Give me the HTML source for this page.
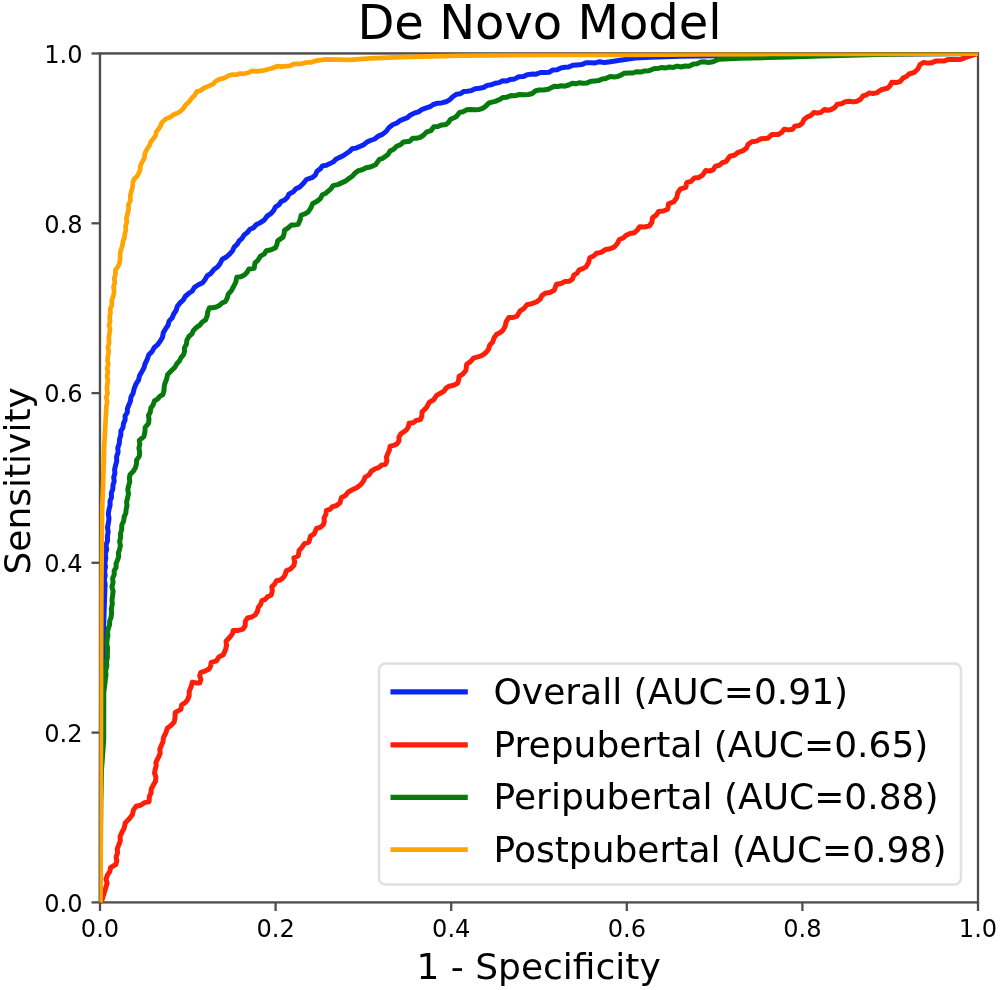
<!DOCTYPE html>
<html lang="en">
<head>
<meta charset="utf-8">
<title>De Novo Model</title>
<style>
html,body{margin:0;padding:0;background:#ffffff;}
body{width:1000px;height:990px;overflow:hidden;}
svg{display:block;}
text{font-family:"DejaVu Sans", "Liberation Sans", sans-serif;fill:#000000;}
.tick{font-size:24.1px;}
.lab{font-size:36px;}
.leg{font-size:36px;}
.title{font-size:48px;}
.curve{fill:none;stroke-linejoin:round;stroke-linecap:butt;}
</style>
</head>
<body>
<svg width="1000" height="990" viewBox="0 0 1000 990">
<rect x="0" y="0" width="1000" height="990" fill="#ffffff"/>
<defs><clipPath id="ax"><rect x="98.85" y="52.35" width="880.3" height="851.1999999999999"/></clipPath></defs>
<text class="title" x="539.5" y="38.8" text-anchor="middle">De Novo Model</text>
<rect x="100.0" y="53.5" width="878.0" height="848.9" fill="none" stroke="#4d4d4d" stroke-width="2.3"/>
<line x1="100.0" y1="902.4" x2="100.0" y2="911.0" stroke="#4d4d4d" stroke-width="2.3"/><text class="tick" transform="translate(100.0,937.4) scale(1,1.055)" text-anchor="middle">0.0</text>
<line x1="275.6" y1="902.4" x2="275.6" y2="911.0" stroke="#4d4d4d" stroke-width="2.3"/><text class="tick" transform="translate(275.6,937.4) scale(1,1.055)" text-anchor="middle">0.2</text>
<line x1="451.2" y1="902.4" x2="451.2" y2="911.0" stroke="#4d4d4d" stroke-width="2.3"/><text class="tick" transform="translate(451.2,937.4) scale(1,1.055)" text-anchor="middle">0.4</text>
<line x1="626.8" y1="902.4" x2="626.8" y2="911.0" stroke="#4d4d4d" stroke-width="2.3"/><text class="tick" transform="translate(626.8,937.4) scale(1,1.055)" text-anchor="middle">0.6</text>
<line x1="802.4" y1="902.4" x2="802.4" y2="911.0" stroke="#4d4d4d" stroke-width="2.3"/><text class="tick" transform="translate(802.4,937.4) scale(1,1.055)" text-anchor="middle">0.8</text>
<line x1="978.0" y1="902.4" x2="978.0" y2="911.0" stroke="#4d4d4d" stroke-width="2.3"/><text class="tick" transform="translate(978.0,937.4) scale(1,1.055)" text-anchor="middle">1.0</text>
<line x1="91.5" y1="902.4" x2="100.0" y2="902.4" stroke="#4d4d4d" stroke-width="2.3"/><text class="tick" transform="translate(82.5,911.6) scale(1,1.055)" text-anchor="end">0.0</text>
<line x1="91.5" y1="732.6" x2="100.0" y2="732.6" stroke="#4d4d4d" stroke-width="2.3"/><text class="tick" transform="translate(82.5,741.9) scale(1,1.055)" text-anchor="end">0.2</text>
<line x1="91.5" y1="562.8" x2="100.0" y2="562.8" stroke="#4d4d4d" stroke-width="2.3"/><text class="tick" transform="translate(82.5,572.1) scale(1,1.055)" text-anchor="end">0.4</text>
<line x1="91.5" y1="393.1" x2="100.0" y2="393.1" stroke="#4d4d4d" stroke-width="2.3"/><text class="tick" transform="translate(82.5,402.3) scale(1,1.055)" text-anchor="end">0.6</text>
<line x1="91.5" y1="223.3" x2="100.0" y2="223.3" stroke="#4d4d4d" stroke-width="2.3"/><text class="tick" transform="translate(82.5,232.5) scale(1,1.055)" text-anchor="end">0.8</text>
<line x1="91.5" y1="53.5" x2="100.0" y2="53.5" stroke="#4d4d4d" stroke-width="2.3"/><text class="tick" transform="translate(82.5,62.8) scale(1,1.055)" text-anchor="end">1.0</text>
<g clip-path="url(#ax)">
<polyline class="curve" points="100.2,902.4 100.8,760.0 101.5,700.0 103.0,650.0 103.8,621.7 104.9,588.8 105.2,584.4 104.3,580.1 105.2,575.7 104.5,571.3 105.5,567.0 104.9,562.6 105.8,558.3 105.3,553.8 106.7,549.5 105.9,545.0 107.6,540.7 107.4,536.3 108.2,531.9 107.5,527.5 108.4,523.1 109.0,518.6 108.3,513.9 109.0,509.4 110.1,505.4 110.0,501.2 111.5,497.3 111.3,493.1 112.8,489.2 113.0,485.1 114.2,481.2 113.7,477.2 114.9,473.3 114.6,469.3 115.6,465.4 116.7,461.1 116.6,456.6 118.1,452.3 117.8,447.8 119.3,443.5 119.6,439.1 120.8,435.2 120.9,431.1 123.0,427.5 123.5,423.4 125.1,419.9 125.1,415.9 127.3,412.5 127.4,408.6 128.8,405.0 130.4,401.2 131.0,397.0 133.1,393.3 134.0,389.2 135.9,384.2 138.5,380.2 139.6,375.5 142.0,371.4 144.0,367.8 145.0,363.8 147.2,359.4 148.8,354.7 152.0,351.6 154.2,347.6 157.6,344.7 160.2,341.1 162.5,337.3 163.3,332.8 165.5,328.9 168.0,325.3 169.1,321.1 172.2,317.8 173.8,313.8 176.1,310.5 177.3,306.4 179.8,303.2 183.1,300.2 185.4,296.2 188.9,293.3 192.3,291.0 194.5,287.3 198.0,285.0 202.6,282.7 205.1,279.5 207.1,275.9 211.0,273.3 213.9,269.5 217.7,266.8 220.3,263.2 222.3,259.2 226.4,257.0 229.8,253.9 232.5,250.9 234.1,247.1 237.1,244.4 239.1,240.9 242.1,238.3 244.1,235.0 247.3,232.6 249.7,229.5 253.5,227.7 256.4,224.5 260.3,222.7 264.2,220.1 267.0,216.2 270.9,213.6 273.7,210.5 275.5,206.8 278.9,204.8 281.2,201.5 284.9,199.9 287.6,197.0 289.1,193.9 293.0,192.1 295.8,188.8 299.7,187.1 303.3,183.5 306.5,179.5 312.6,177.3 315.5,174.8 317.0,171.2 320.2,168.9 322.4,165.9 326.4,165.3 330.0,163.6 333.3,161.9 335.9,159.3 339.1,157.6 343.1,155.8 346.8,153.3 349.7,151.3 352.1,148.8 356.0,148.1 359.7,146.5 363.5,144.9 366.6,142.3 370.3,140.5 374.6,139.0 378.2,136.1 382.4,134.4 386.2,131.4 389.1,127.4 393.0,124.5 396.8,123.2 399.9,120.6 403.6,119.2 407.4,117.7 410.5,114.9 414.2,113.2 418.5,111.9 422.2,109.3 426.4,107.9 430.1,106.7 433.3,104.5 437.0,103.3 441.6,102.9 446.1,101.8 449.9,99.6 453.0,96.5 456.7,94.2 460.4,93.8 463.6,91.6 467.3,91.2 471.4,90.6 475.2,88.7 479.4,88.2 483.5,87.5 487.2,85.4 491.4,84.8 495.2,83.2 499.1,82.6 502.6,80.8 506.7,81.0 510.3,79.4 514.7,78.9 518.7,76.8 523.1,76.6 527.2,74.8 531.5,74.1 536.1,74.2 540.6,72.5 545.2,72.6 549.3,72.2 552.9,69.9 557.1,69.8 560.8,68.0 564.8,67.3 568.9,66.9 572.9,65.3 577.0,65.0 581.6,64.6 586.0,62.8 590.6,62.7 595.2,62.9 599.7,61.7 604.3,62.6 608.8,62.0 620.0,60.3 635.0,58.0 650.0,57.3 680.0,56.2 717.5,55.8 800.0,54.6 978.0,53.6" stroke="#0c24f4" stroke-width="5.0"/>
<polyline class="curve" points="100.2,902.4 101.4,901.7 105.9,887.3 107.1,883.4 106.0,879.1 107.4,875.2 109.8,871.7 110.5,867.6 115.8,864.5 116.8,860.8 116.1,857.0 117.5,853.1 117.3,848.7 118.8,844.8 120.3,840.9 120.1,836.6 121.8,832.7 124.2,828.0 125.2,822.9 129.7,818.3 132.4,814.6 133.5,809.9 136.2,806.2 140.7,805.3 144.6,802.6 149.1,801.7 149.4,796.4 151.0,793.0 151.2,789.2 152.9,785.8 155.5,781.2 155.9,777.2 154.5,773.2 155.2,769.2 156.2,765.9 155.9,762.4 158.9,756.4 160.2,753.0 159.8,749.2 161.2,745.8 163.0,741.8 163.5,737.4 165.8,733.0 167.3,728.3 170.9,725.6 174.1,722.3 175.1,717.4 175.2,712.4 180.9,709.4 181.7,704.8 185.2,702.7 187.7,699.5 189.2,695.5 189.2,691.2 191.1,686.8 192.3,682.1 196.0,682.9 199.8,682.9 200.9,679.4 199.7,675.7 200.9,672.3 205.0,671.1 208.9,669.2 210.7,666.0 211.2,662.4 216.5,660.9 218.8,657.1 223.3,654.8 225.6,649.5 226.5,645.4 226.1,641.2 230.2,636.7 232.4,634.0 233.2,630.6 238.2,630.4 243.0,629.1 245.2,625.6 245.3,621.3 247.6,617.9 251.7,617.0 255.2,614.8 257.4,611.5 258.3,607.5 260.7,604.2 262.0,600.5 265.3,599.3 267.8,596.5 271.1,595.2 272.3,591.1 271.8,586.8 274.6,584.2 276.4,580.8 280.2,580.0 283.2,577.7 285.2,574.5 286.2,570.9 290.5,569.0 293.8,565.6 294.7,561.8 293.8,558.0 298.3,555.8 299.1,550.5 302.1,547.3 304.4,543.6 308.9,542.1 310.5,536.1 314.2,533.8 316.5,528.5 320.3,527.3 323.3,524.7 324.3,521.4 324.1,517.9 325.9,514.3 326.4,510.3 329.9,509.4 332.6,506.6 336.2,505.8 340.0,502.7 341.5,497.4 345.5,495.5 348.3,492.0 352.1,489.8 356.7,487.8 360.6,484.7 363.4,481.2 365.2,477.1 369.0,474.9 371.4,471.2 375.0,468.8 378.7,467.7 381.8,465.0 385.6,464.2 386.9,460.8 386.4,457.0 387.9,453.6 389.4,450.0 390.2,446.1 393.8,445.4 397.0,443.8 399.0,440.8 399.0,437.0 400.8,433.9 406.1,430.2 408.3,427.1 409.1,423.3 413.1,422.7 416.5,420.2 420.5,419.5 421.9,415.9 422.0,412.0 426.5,407.4 429.5,402.1 433.8,399.7 436.6,395.4 440.9,393.0 444.0,391.1 446.1,388.1 449.2,386.2 453.6,385.2 457.6,383.2 458.7,379.9 459.1,376.4 463.0,373.9 465.9,370.3 466.7,364.2 470.5,361.6 473.5,358.2 478.8,356.7 482.4,355.2 485.6,352.9 488.4,349.5 489.7,345.2 492.7,342.0 494.1,337.7 496.7,334.2 499.9,332.7 502.7,330.5 505.1,326.4 506.2,321.6 508.8,317.6 513.1,317.5 517.1,316.1 520.2,310.8 524.1,308.3 527.0,304.7 532.0,303.6 536.8,301.7 540.0,299.3 541.9,295.6 545.2,293.3 549.9,292.5 554.2,290.3 556.5,284.2 560.9,283.6 564.9,281.5 569.4,281.2 572.5,278.9 573.9,275.1 577.2,273.0 579.2,269.8 582.8,268.7 586.1,266.8 588.6,262.5 589.8,257.7 593.6,256.0 596.7,253.2 601.2,252.4 605.8,249.4 610.1,248.8 614.1,247.1 617.3,243.6 619.4,239.5 623.2,238.0 626.3,235.2 630.0,233.5 634.4,232.7 637.4,230.0 639.7,226.7 644.7,227.0 649.5,225.9 651.9,222.1 652.6,217.6 656.2,215.1 658.6,211.5 663.3,211.0 667.7,209.2 668.5,203.9 673.8,201.7 676.7,197.7 677.8,192.8 680.6,188.8 685.9,187.3 686.7,182.7 691.0,181.4 694.3,178.1 698.8,177.5 702.6,175.2 705.6,170.6 709.5,171.0 713.2,169.8 715.5,166.1 719.3,165.3 722.4,162.7 726.1,161.5 729.8,156.2 734.4,155.2 738.2,152.3 742.7,150.9 746.3,148.4 748.2,144.3 751.8,141.8 756.6,141.1 760.9,138.8 767.6,138.3 772.1,134.5 778.2,134.5 781.7,132.4 784.2,129.2 788.4,129.9 792.6,129.2 794.8,126.2 799.4,125.5 802.4,123.1 804.0,119.5 807.0,117.1 810.8,115.5 813.8,112.6 817.2,113.0 820.6,112.6 824.4,109.5 827.8,110.3 831.2,109.5 834.8,107.5 837.3,104.2 841.5,103.8 845.3,101.8 849.4,101.2 853.2,101.9 857.0,101.2 860.6,99.2 863.0,95.9 866.3,95.0 869.1,92.9 872.9,93.5 876.7,92.9 881.2,89.8 887.3,88.3 890.1,85.7 891.8,82.3 896.1,82.6 900.2,81.5 903.0,78.1 906.4,76.5 909.1,74.0 914.1,72.5 917.9,69.0 920.2,64.4 923.7,62.4 927.5,63.1 931.3,62.9 936.4,60.9 944.4,60.9 948.5,59.4 960.6,59.4 968.7,56.4 978.0,53.6" stroke="#ff1e08" stroke-width="5.0"/>
<polyline class="curve" points="100.2,902.4 100.8,800.0 101.5,770.0 103.7,740.0 103.8,692.5 105.4,679.4 106.0,675.0 105.6,670.6 106.8,666.2 106.5,661.8 107.4,657.4 107.4,653.0 107.6,648.5 106.8,643.9 107.1,639.4 107.9,635.7 107.5,631.9 108.4,628.3 109.6,624.8 109.7,621.1 111.0,617.7 111.6,613.3 111.3,608.8 112.3,604.3 112.0,599.8 112.6,595.4 113.1,591.1 111.9,586.8 113.1,582.6 112.6,578.3 114.2,574.8 114.2,570.8 116.1,567.4 116.1,563.5 117.6,559.9 118.7,556.5 118.4,552.8 119.6,549.4 120.4,545.5 119.6,541.5 120.6,537.6 120.5,533.6 121.7,529.4 121.8,525.0 123.7,520.9 124.2,516.6 125.8,513.2 126.1,509.4 127.0,505.7 126.6,501.9 127.5,498.2 128.5,493.9 127.8,489.4 128.8,485.1 129.8,481.7 129.3,478.1 130.1,474.6 133.1,471.6 135.3,468.0 136.4,464.1 136.6,460.1 139.3,456.2 139.7,452.2 138.9,448.3 139.8,444.3 139.3,440.4 143.9,436.5 144.9,431.9 145.2,427.3 148.5,423.4 149.0,419.4 148.5,415.5 150.3,412.0 150.9,408.0 153.2,404.7 154.4,401.0 157.5,399.2 159.8,396.4 162.9,394.5 164.0,390.6 164.2,386.6 164.7,384.2 166.5,379.4 167.7,374.4 172.3,369.8 175.0,367.2 176.8,363.8 179.4,361.0 181.1,357.5 183.6,354.7 184.5,351.4 184.4,347.9 186.4,344.3 186.9,340.1 188.9,336.5 191.9,333.9 193.6,330.2 196.5,327.4 199.8,325.1 202.3,322.0 205.6,319.8 207.2,315.9 207.8,311.6 209.4,307.7 212.8,307.7 216.2,307.0 219.4,305.5 222.0,303.0 225.3,301.7 227.2,298.1 228.3,294.1 231.4,290.6 233.6,286.5 235.8,282.1 236.8,277.3 240.8,276.8 244.4,275.0 247.1,272.3 248.9,268.9 254.2,268.2 255.0,262.9 258.1,260.1 260.2,256.4 264.0,254.2 266.4,250.8 271.1,249.8 275.5,247.7 276.9,244.4 277.7,240.9 283.0,237.1 284.1,233.8 284.5,230.3 288.2,227.9 291.4,225.0 294.8,224.9 298.2,224.2 300.1,219.8 301.2,215.2 304.7,214.0 308.0,212.1 310.7,208.2 312.6,203.8 317.9,200.8 320.7,198.1 322.4,194.7 325.7,193.2 328.5,190.9 331.1,188.6 333.0,185.6 337.7,184.6 342.1,182.6 345.9,180.9 349.1,178.3 352.4,176.2 355.0,173.1 358.2,170.8 362.3,169.8 366.1,167.8 370.3,167.0 375.6,164.7 379.4,159.4 382.7,158.3 385.5,156.4 388.2,154.2 390.0,151.1 393.7,149.3 396.6,146.3 400.5,144.7 403.6,142.0 409.7,141.2 412.7,138.2 416.5,138.2 420.3,137.4 423.6,135.1 426.4,132.1 430.9,130.6 433.9,126.8 438.0,126.4 442.0,124.9 446.1,124.5 448.7,122.1 450.6,119.2 455.9,117.0 459.7,112.4 463.3,111.7 466.6,109.8 470.3,109.4 474.9,109.8 479.4,109.4 482.6,108.3 485.5,106.4 489.1,102.9 495.2,101.4 499.1,99.8 502.7,97.6 506.9,97.2 511.0,95.6 515.3,95.7 519.4,94.5 524.0,94.8 528.5,94.5 532.3,93.5 535.3,91.0 539.1,90.0 543.7,90.0 548.2,89.2 554.2,86.2 557.7,86.6 561.3,85.7 564.8,86.2 568.7,85.0 572.4,83.2 575.9,83.8 579.5,82.7 583.0,83.2 587.2,82.9 591.0,81.2 595.2,80.9 598.8,80.6 602.2,78.9 605.8,78.6 610.3,76.4 614.1,76.9 617.9,76.4 621.0,75.1 623.9,73.3 629.0,73.0 632.9,73.0 636.8,71.7 640.7,72.1 644.6,70.9 648.5,70.8 654.5,68.5 658.3,68.4 662.0,67.4 665.8,67.9 669.5,67.0 673.4,67.4 677.3,66.1 681.2,67.0 685.1,66.0 689.0,66.3 693.5,64.0 697.1,63.8 700.4,62.1 704.0,61.8 708.5,62.4 713.0,61.8 719.0,59.2 740.0,58.3 768.5,57.6 790.0,56.9 820.0,56.0 850.0,55.3 887.0,54.3 930.0,53.8 978.0,53.6" stroke="#067a0a" stroke-width="5.0"/>
<polyline class="curve" points="100.6,902.4 101.0,700.0 101.3,600.0 102.1,509.4 103.1,485.1 104.2,445.7 106.4,406.3 107.2,401.9 106.3,397.4 107.6,393.1 106.9,388.6 107.4,384.2 107.9,380.2 107.0,376.2 107.9,372.2 107.1,368.2 108.3,364.2 107.5,360.2 107.9,356.2 108.8,351.7 107.9,347.1 109.2,342.6 108.8,338.0 109.4,333.5 110.1,329.5 109.1,325.4 110.1,321.4 109.6,317.3 110.5,313.3 110.2,309.2 111.9,304.8 111.8,300.0 113.5,295.6 114.2,291.3 113.5,286.9 114.8,282.7 114.3,278.4 115.5,274.1 115.5,269.8 117.8,267.1 119.2,263.8 120.2,259.3 120.0,254.7 120.8,250.2 122.4,245.8 123.0,241.1 124.4,237.8 124.8,234.2 125.8,230.2 125.6,226.0 126.9,222.0 126.4,217.8 127.6,213.8 128.6,209.3 128.5,204.6 130.5,200.3 130.2,195.6 131.4,191.1 132.6,187.1 132.8,182.9 134.1,178.9 137.0,176.3 138.9,172.9 140.2,169.5 140.4,165.7 142.0,162.3 144.4,158.0 145.0,153.0 147.3,148.6 149.5,145.5 150.8,141.7 153.3,138.8 155.5,135.7 156.3,131.9 158.6,128.9 160.5,126.1 161.7,122.9 165.5,119.1 169.9,117.3 173.8,114.5 179.1,112.3 182.9,108.9 185.9,104.7 189.2,101.6 192.0,97.9 194.8,95.2 196.5,91.8 200.6,90.5 204.1,88.0 209.1,85.9 213.0,84.1 215.9,81.0 219.7,79.1 224.2,78.1 228.2,75.8 232.6,74.5 236.4,74.7 240.1,73.5 243.9,73.8 248.3,72.7 252.3,70.8 256.5,71.4 260.6,70.8 264.5,70.3 268.2,69.2 272.8,68.0 277.3,66.2 281.9,66.6 286.4,66.2 290.0,65.8 293.3,64.1 297.0,63.9 301.6,63.8 306.0,62.5 310.6,62.4 315.2,60.9 325.8,59.4 350.0,59.8 370.3,58.3 400.6,57.1 430.9,56.4 461.2,55.6 490.0,55.3 560.0,55.0 630.0,54.8 700.0,54.4 770.0,54.0 850.0,53.8 978.0,53.7" stroke="#ffa400" stroke-width="4.7"/>
</g>
<line x1="99.4" y1="52.35" x2="99.4" y2="903.55" stroke="#4d4d4d" stroke-width="1.1" stroke-opacity="0.5"/>
<line x1="98.85" y1="52.9" x2="979.15" y2="52.9" stroke="#4d4d4d" stroke-width="1.1" stroke-opacity="0.5"/>
<text class="lab" x="538.6" y="978.7" text-anchor="middle">1 - Specificity</text>
<text class="lab" transform="translate(29.7,480.9) rotate(-90)" text-anchor="middle">Sensitivity</text>
<rect x="379" y="663.5" width="582" height="221" rx="6.5" ry="6.5" fill="#ffffff" fill-opacity="0.8" stroke="#e0e0e0" stroke-width="2.5"/>
<line x1="390.5" y1="691.9" x2="467.8" y2="691.9" stroke="#0c24f4" stroke-width="5.2"/><text class="leg" x="493.5" y="704.1">Overall (AUC=0.91)</text>
<line x1="390.5" y1="744.8" x2="467.8" y2="744.8" stroke="#ff1e08" stroke-width="5.2"/><text class="leg" x="493.5" y="756.7">Prepubertal (AUC=0.65)</text>
<line x1="390.5" y1="797.3" x2="467.8" y2="797.3" stroke="#067a0a" stroke-width="5.2"/><text class="leg" x="493.5" y="809.4">Peripubertal (AUC=0.88)</text>
<line x1="390.5" y1="849.7" x2="467.8" y2="849.7" stroke="#ffa400" stroke-width="4.8"/><text class="leg" x="493.5" y="862.0">Postpubertal (AUC=0.98)</text>
</svg>
</body>
</html>
